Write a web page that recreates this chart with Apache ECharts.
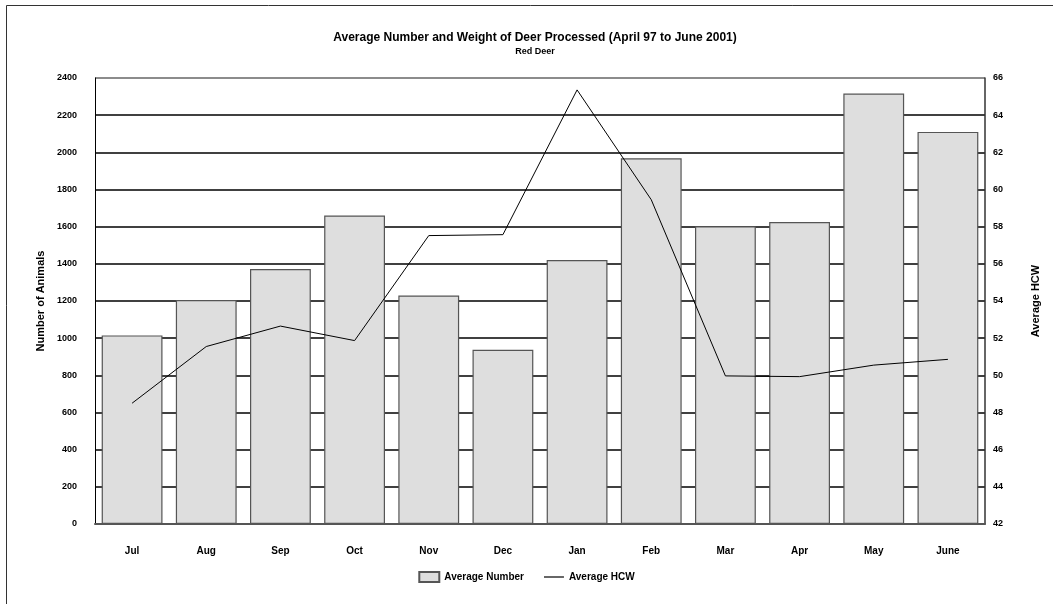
<!DOCTYPE html>
<html>
<head>
<meta charset="utf-8">
<script src="https://cdn.jsdelivr.net/npm/echarts@6/dist/echarts.min.js"></script>
<style>
  html, body { margin: 0; padding: 0; background: #fff; }
  #chart { width: 1053px; height: 604px; }
</style>
</head>
<body>
<div id="chart"></div>
<script>
// Months of the season, July through June
const months = ['Jul', 'Aug', 'Sep', 'Oct', 'Nov', 'Dec', 'Jan', 'Feb', 'Mar', 'Apr', 'May', 'June'];
// Average number of red deer processed per month
const avgNumber = [1015, 1205, 1372, 1660, 1230, 938, 1420, 1968, 1602, 1625, 2316, 2110];
// Average hot carcass weight (HCW) per month
const avgHCW = [48.5, 51.55, 52.65, 51.87, 57.52, 57.57, 65.36, 59.45, 49.97, 49.93, 50.55, 50.86];

const FONT = '"Liberation Sans", Arial, sans-serif';

// Split line colours: black for the inner gridlines, grey for the top frame edge
const gridColors = ['#000', '#000', '#000', '#000', '#000', '#000', '#000', '#000', '#000', '#000', '#000', '#000', '#666'];

const chart = echarts.init(document.getElementById('chart'), null, { renderer: 'canvas' });

chart.setOption({
  backgroundColor: '#fff',
  animation: false,
  textStyle: { fontFamily: FONT },
  title: [
    {
      text: 'Average Number and Weight of Deer Processed (April 97 to June 2001)',
      left: 530, top: 27, textAlign: 'center',
      textStyle: { fontFamily: FONT, fontSize: 12, fontWeight: 'bold', color: '#000' }
    },
    {
      text: 'Red Deer',
      left: 530, top: 42, textAlign: 'center',
      textStyle: { fontFamily: FONT, fontSize: 9, fontWeight: 'bold', color: '#000' }
    }
  ],
  graphic: [
    {
      type: 'rect', silent: true, z: -1,
      shape: { x: 6.5, y: 5.5, width: 1200, height: 800 },
      style: { fill: 'none', stroke: '#333', lineWidth: 1 }
    }
  ],
  legend: {
    bottom: 16,
    left: 'center',
    itemWidth: 20,
    itemHeight: 10,
    itemGap: 20,
    textStyle: { fontFamily: FONT, fontSize: 10, fontWeight: 'bold', color: '#000' },
    data: [
      { name: 'Average Number', icon: 'rect' },
      { name: 'Average HCW', icon: 'path://M0,0 H20 V1.2 H0 Z', itemStyle: { color: '#000' } }
    ]
  },
  grid: { left: 95, right: 68, top: 78, bottom: 80, containLabel: false },
  xAxis: {
    type: 'category',
    data: months,
    boundaryGap: true,
    axisLine: { show: true, lineStyle: { color: '#555', width: 2 } },
    axisTick: { show: true, inside: true, alignWithLabel: true, length: 13, lineStyle: { color: '#333', width: 1 } },
    axisLabel: { margin: 22, fontFamily: FONT, fontSize: 10, fontWeight: 'bold', color: '#000' },
    splitLine: { show: false }
  },
  yAxis: [
    {
      type: 'value',
      min: 0, max: 2400, interval: 200,
      name: 'Number of Animals',
      nameLocation: 'middle',
      nameGap: 49,
      nameRotate: 90,
      nameTextStyle: { fontFamily: FONT, fontSize: 11, fontWeight: 'bold', color: '#000' },
      axisLine: { show: true, lineStyle: { color: '#000', width: 1 } },
      axisTick: { show: false },
      axisLabel: {
        margin: 18, fontFamily: FONT, fontSize: 9, fontWeight: 'bold', color: '#000',
        formatter: v => String(v)
      },
      splitLine: { show: true, lineStyle: { color: gridColors, width: 1.5 } }
    },
    {
      type: 'value',
      min: 42, max: 66, interval: 2,
      name: 'Average HCW',
      nameLocation: 'middle',
      nameGap: 45,
      nameRotate: 90,
      nameTextStyle: { fontFamily: FONT, fontSize: 11, fontWeight: 'bold', color: '#000' },
      position: 'right',
      axisLine: { show: true, lineStyle: { color: '#333', width: 1.5 } },
      axisTick: { show: false },
      axisLabel: {
        margin: 8, fontFamily: FONT, fontSize: 9, fontWeight: 'bold', color: '#000',
        formatter: v => String(v)
      },
      splitLine: { show: false }
    }
  ],
  series: [
    {
      name: 'Average Number',
      type: 'bar',
      yAxisIndex: 0,
      data: avgNumber,
      barCategoryGap: '18%',
      itemStyle: { color: '#dedede', borderColor: '#555', borderWidth: 1.2 },
      z: 2
    },
    {
      name: 'Average HCW',
      type: 'line',
      yAxisIndex: 1,
      data: avgHCW,
      symbol: 'none',
      lineStyle: { color: '#000', width: 1 },
      itemStyle: { color: '#000' },
      z: 3
    }
  ]
});
</script>
</body>
</html>
